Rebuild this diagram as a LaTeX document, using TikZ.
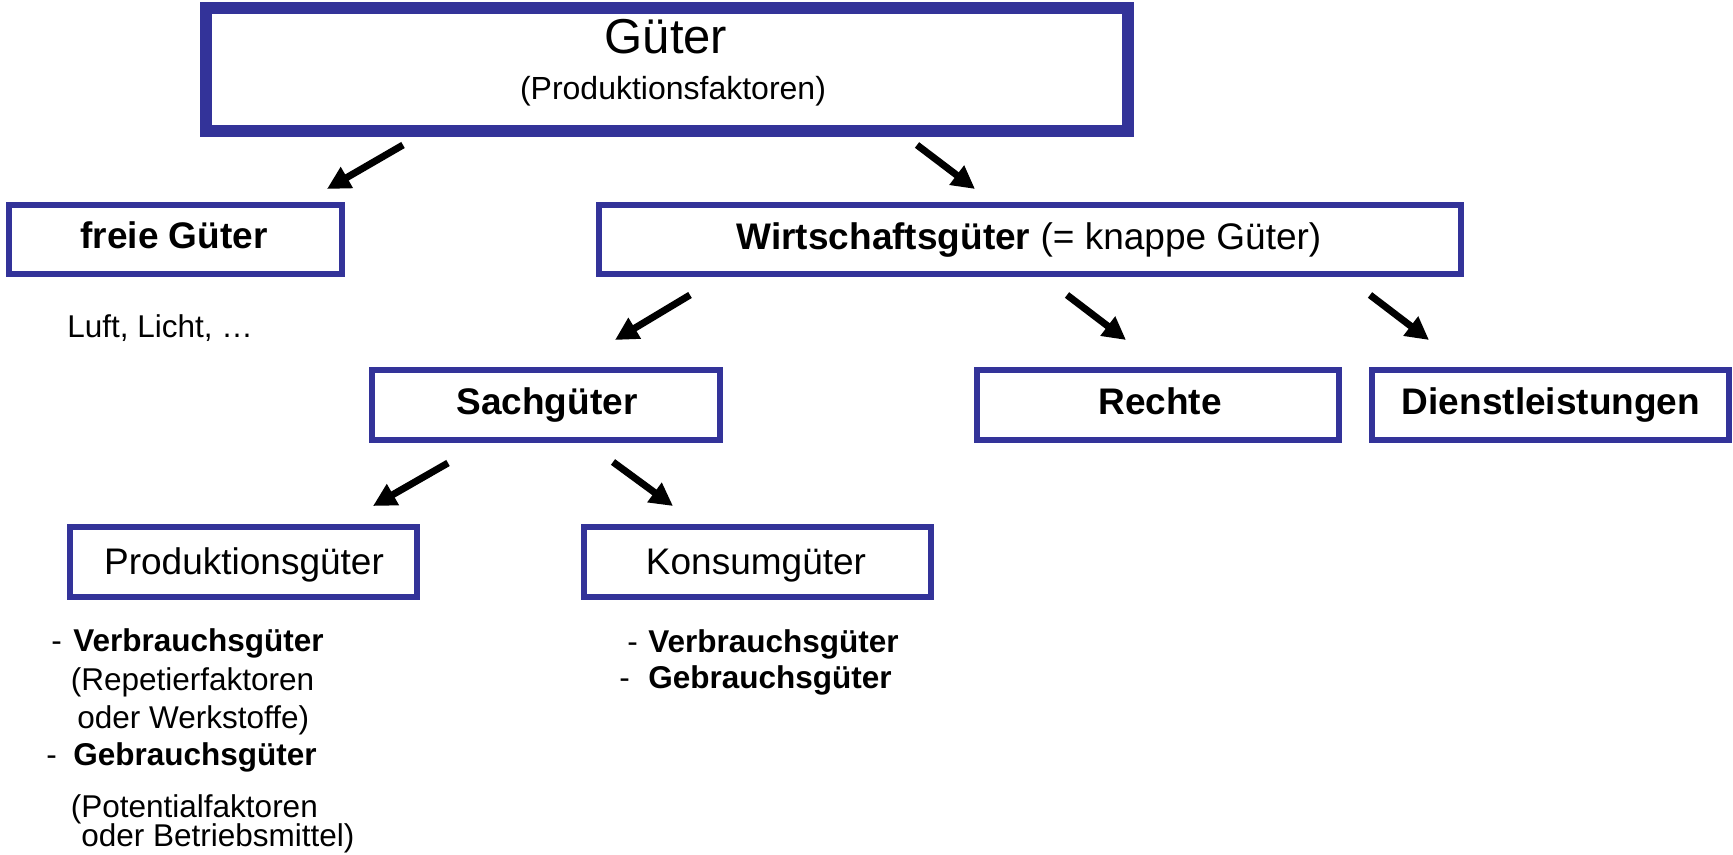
\documentclass[tikz,border=0pt]{standalone}
\usepackage{fontspec}
\setmainfont{Liberation Sans}
\usetikzlibrary{arrows.meta}
\definecolor{boxblue}{RGB}{51,51,153}
\begin{document}
\begin{tikzpicture}[x=0.5pt,y=-0.5pt,
  box/.style={draw=boxblue, line width=3pt, rectangle, inner sep=0pt, fill=white},
  bigbox/.style={box, line width=6pt},
  lbl/.style={inner sep=0pt, anchor=base, font=\fontsize{18.5}{22}\selectfont},
  small/.style={inner sep=0pt, anchor=base west, font=\fontsize{15.75}{19}\selectfont},
  arr/.style={line width=3.5pt, -{Triangle[length=11.5pt,width=11.5pt]}}]
\useasboundingbox (0,0) rectangle (1733,855);

% boxes
\node[bigbox, minimum width=461pt, minimum height=61.5pt] (guter) at (667,69.5) {};
\node[box, minimum width=166.5pt, minimum height=34.5pt] (freie) at (175.5,239.5) {};
\node[box, minimum width=431pt, minimum height=34.5pt] (wirt) at (1030,239.5) {};
\node[box, minimum width=174pt, minimum height=35pt] (sach) at (546,405) {};
\node[box, minimum width=181pt, minimum height=35pt] (rechte) at (1158,405) {};
\node[box, minimum width=178.5pt, minimum height=35pt] (dienst) at (1550,405) {};
\node[box, minimum width=173.5pt, minimum height=35pt] (prod) at (243.5,562) {};
\node[box, minimum width=173.5pt, minimum height=35pt] (kons) at (757.5,562) {};

% box texts
\node[lbl, font=\fontsize{24.5}{29}\selectfont] (tguter) at (666,54) {Güter};
\node[lbl, font=\fontsize{16}{19}\selectfont] (tprodf) at (673,100) {(Produktionsfaktoren)};
\node[lbl] (tfreie) at (174,249) {\textbf{freie Güter}};
\node[lbl] (twirt) at (1029,250) {\textbf{Wirtschaftsgüter} (= knappe Güter)};
\node[lbl] (tsach) at (547,415) {\textbf{Sachgüter}};
\node[lbl] (trechte) at (1160,415) {\textbf{Rechte}};
\node[lbl] (tdienst) at (1551,415) {\textbf{Dienstleistungen}};
\node[lbl] (tprod) at (244,574) {Produktionsgüter};
\node[lbl] (tkons) at (756,574) {Konsumgüter};

% free text
\node[small] (luft) at (67,337) {Luft, Licht, …};

% left list
\node[small] (d1) at (51,651.5) {-};
\node[small] (l1) at (73,651.5) {\textbf{Verbrauchsgüter}};
\node[small] (l2) at (70.5,690) {(Repetierfaktoren};
\node[small] (l3) at (77,728) {oder Werkstoffe)};
\node[small] (d2) at (46,765.5) {-};
\node[small] (l4) at (73,765.5) {\textbf{Gebrauchsgüter}};
\node[small] (l5) at (70.5,817) {(Potentialfaktoren};
\node[small] (l6) at (81,846) {oder Betriebsmittel)};

% right list
\node[small] (d3) at (627,652) {-};
\node[small] (r1) at (648,652) {\textbf{Verbrauchsgüter}};
\node[small] (d4) at (619,688) {-};
\node[small] (r2) at (648,688) {\textbf{Gebrauchsgüter}};

% arrow end points
\coordinate (a1s) at (403,145); \coordinate (a1e) at (327,189);
\coordinate (a2s) at (917,145); \coordinate (a2e) at (975,189);
\coordinate (a3s) at (690,295); \coordinate (a3e) at (615,340);
\coordinate (a4s) at (1067,295); \coordinate (a4e) at (1126,340);
\coordinate (a5s) at (1370,295); \coordinate (a5e) at (1429,340);
\coordinate (a6s) at (448,463); \coordinate (a6e) at (373,506);
\coordinate (a7s) at (613,462); \coordinate (a7e) at (673,506);

\draw[arr] (a1s) -- (a1e);
\draw[arr] (a2s) -- (a2e);
\draw[arr] (a3s) -- (a3e);
\draw[arr] (a4s) -- (a4e);
\draw[arr] (a5s) -- (a5e);
\draw[arr] (a6s) -- (a6e);
\draw[arr] (a7s) -- (a7e);
\end{tikzpicture}
\end{document}
